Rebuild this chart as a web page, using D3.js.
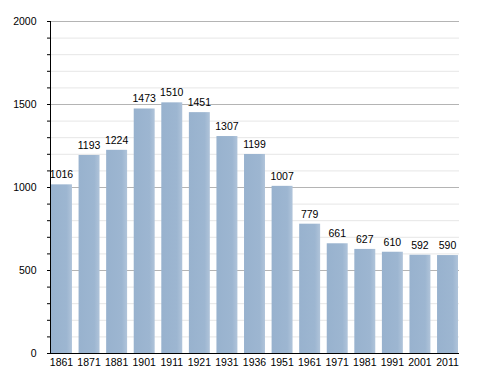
<!DOCTYPE html>
<html><head><meta charset="utf-8">
<script src="https://cdn.jsdelivr.net/npm/d3@7"></script>
<style>body{margin:0;background:#fff}svg{display:block}text{font-family:"Liberation Sans Narrow","Arial Narrow","Liberation Sans",Arial,sans-serif}</style>
</head><body>
<svg id="c" width="488" height="373"></svg>
<script>
const years = ["1861","1871","1881","1901","1911","1921","1931","1936","1951","1961","1971","1981","1991","2001","2011"];
const population = [1016,1193,1224,1473,1510,1451,1307,1199,1007,779,661,627,610,592,590];
const yTicks = [0,500,1000,1500,2000];
const FONT = '"Liberation Sans Narrow","Arial Narrow","Liberation Sans",Arial,sans-serif';

const svg = d3.select("#c");
const L = 50, R = 459, T = 21, B = 353;
const x = d3.scaleBand().domain(years).range([L + 1, R - 1]).paddingInner(0.24).paddingOuter(0);
const y = d3.scaleLinear().domain([0,2000]).range([B, T]);

const defs = svg.append("defs");
const g = defs.append("linearGradient").attr("id","bg").attr("x1","0").attr("x2","1");
g.append("stop").attr("offset","0").attr("stop-color","#98b2ce");
g.append("stop").attr("offset","0.75").attr("stop-color","#9db6d1");
g.append("stop").attr("offset","1").attr("stop-color","#b0c4da");

// grid
const minor = d3.range(100, 2001, 100).filter(v => v % 500 !== 0);
svg.append("g").selectAll("line").data(minor).join("line")
  .attr("x1", L).attr("x2", R).attr("y1", d => y(d)+0.5).attr("y2", d => y(d)+0.5)
  .attr("stroke", "#e6e6e6");
svg.append("g").selectAll("line").data(yTicks.filter(d=>d>0)).join("line")
  .attr("x1", L).attr("x2", R).attr("y1", d => y(d)+0.5).attr("y2", d => y(d)+0.5)
  .attr("stroke", "#b4b4b4");

// bars
svg.append("g").selectAll("rect").data(population).join("rect")
  .attr("x", (d,i) => x(years[i])).attr("width", x.bandwidth())
  .attr("y", d => y(d)).attr("height", d => B - y(d))
  .attr("fill", "url(#bg)");

// value labels
svg.append("g").selectAll("text").data(population).join("text")
  .attr("x", (d,i) => x(years[i]) + x.bandwidth()/2).attr("y", d => y(d) - 6)
  .attr("text-anchor","middle").attr("font-size", 10.5).attr("font-family", FONT).attr("fill","#000")
  .text(d => d);

// y axis
const ya = d3.axisLeft(y).tickValues(yTicks).tickSize(3).tickFormat(d3.format("d"));
const yg = svg.append("g").attr("transform", `translate(${L+0.5},0)`).call(ya);
yg.select(".domain").attr("d", `M0,${T}V${B}`).attr("stroke","#000");
yg.selectAll(".tick text").attr("font-size", 10.5).attr("x", -14).attr("font-family", FONT);
yg.selectAll(".tick line").attr("x2", -3);
svg.append("g").selectAll("line").data(d3.range(0,2001,100)).join("line")
  .attr("x1", L-3).attr("x2", L).attr("y1", d => y(d)+0.5).attr("y2", d => y(d)+0.5)
  .attr("stroke", "#000");

// x axis
svg.append("line").attr("x1", L).attr("x2", R).attr("y1", B+0.5).attr("y2", B+0.5).attr("stroke","#000");
svg.append("g").selectAll("text").data(years).join("text")
  .attr("x", d => x(d) + x.bandwidth()/2).attr("y", B + 12.5)
  .attr("text-anchor","middle").attr("font-size", 10.5).attr("font-family", FONT).text(d => d);
</script>
</body></html>
